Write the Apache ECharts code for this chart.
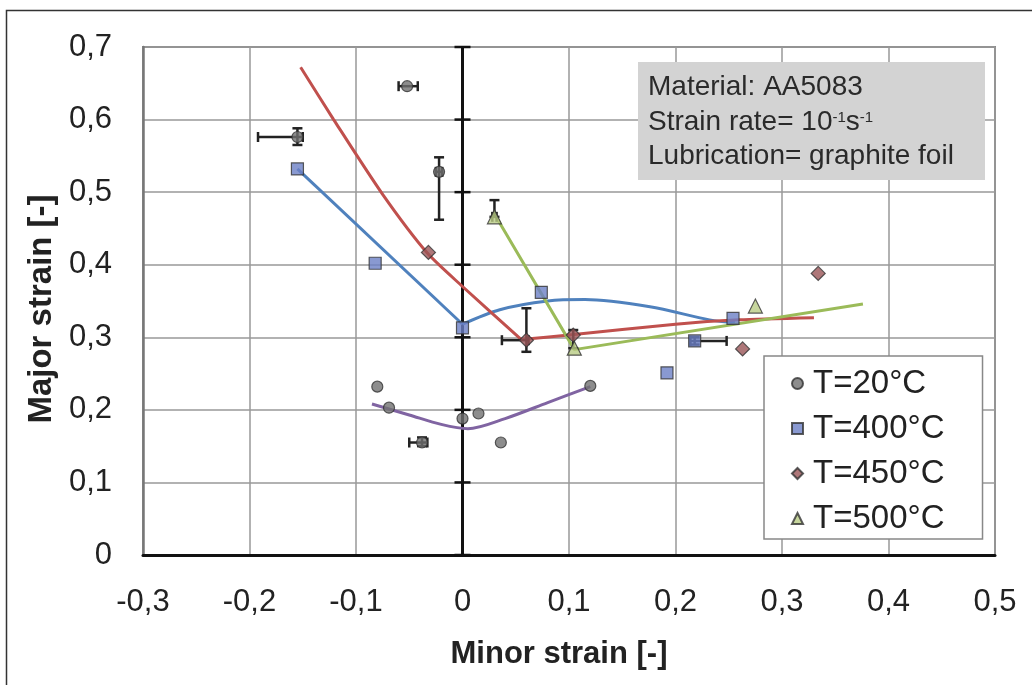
<!DOCTYPE html>
<html>
<head>
<meta charset="utf-8">
<script src="https://cdn.jsdelivr.net/npm/echarts@6/dist/echarts.min.js"></script>
<style>
  html, body { margin: 0; padding: 0; background: #fff; }
  #chart { width: 1032px; height: 685px; }
</style>
</head>
<body>
<div id="chart"></div>
<script>
// axis ticks
var xTicks = [-0.3, -0.2, -0.1, 0, 0.1, 0.2, 0.3, 0.4, 0.5];
var yTicks = [0, 0.1, 0.2, 0.3, 0.4, 0.5, 0.6, 0.7];

// measured points [minor, major]
var pts20 = [[-0.052, 0.646], [-0.155, 0.576], [-0.022, 0.528], [-0.08, 0.232], [-0.069, 0.203],
             [0, 0.188], [0.015, 0.195], [-0.038, 0.155], [0.036, 0.155], [0.12, 0.233]];
var pts400 = [[-0.155, 0.532], [-0.082, 0.402], [0, 0.313], [0.074, 0.362], [0.192, 0.251],
              [0.218, 0.295], [0.254, 0.326]];
var pts450 = [[-0.032, 0.417], [0.06, 0.296], [0.104, 0.303], [0.263, 0.284], [0.334, 0.388]];
var pts500 = [[0.03, 0.466], [0.105, 0.285], [0.275, 0.343]];

// fitted curves
var fit20 = [[-0.085, 0.208], [-0.05, 0.193], [-0.02, 0.18], [0.005, 0.174], [0.04, 0.188], [0.08, 0.21], [0.12, 0.232]];
var fit400a = [[-0.155, 0.532], [0, 0.318]];
var fit400b = [[0, 0.318], [0.035, 0.338], [0.08, 0.35], [0.115, 0.352], [0.176, 0.342], [0.232, 0.324], [0.256, 0.32]];
var fit450a = [[-0.152, 0.672], [-0.121, 0.6], [-0.075, 0.497], [-0.033, 0.416], [0, 0.37], [0.055, 0.297]];
var fit450b = [[0.055, 0.297], [0.1, 0.303], [0.2, 0.318], [0.26, 0.324], [0.33, 0.327]];
var fit500 = [[0.03, 0.47], [0.105, 0.283], [0.376, 0.346]];

// error bars [x, y, xLow, xHigh, yLow, yHigh]
var errBars = [
  [-0.052, 0.646, -0.060, -0.042, 0.646, 0.646],
  [-0.155, 0.576, -0.192, -0.150, 0.565, 0.588],
  [-0.022, 0.528, -0.025, -0.019, 0.462, 0.548],
  [-0.038, 0.155, -0.050, -0.033, 0.150, 0.162],
  [0.06, 0.296, 0.037, 0.062, 0.28, 0.34],
  [0.03, 0.466, 0.028, 0.032, 0.466, 0.489],
  [0.218, 0.295, 0.214, 0.248, 0.29, 0.30],
  [0.104, 0.303, 0.104, 0.104, 0.285, 0.31]
];

var fmt = function (v) {
  var s = (Math.round(v * 10) / 10).toString();
  return s.replace('.', ',');
};

var chart = echarts.init(document.getElementById('chart'));

function errItem(params, api) {
  var x = api.value(0), y = api.value(1);
  var p0 = api.coord([api.value(2), y]), p1 = api.coord([api.value(3), y]);
  var q0 = api.coord([x, api.value(4)]), q1 = api.coord([x, api.value(5)]);
  var st = { stroke: '#222', lineWidth: 2.5 };
  var kids = [];
  if (p1[0] - p0[0] > 2) {
    kids.push({ type: 'line', shape: { x1: p0[0], y1: p0[1], x2: p1[0], y2: p1[1] }, style: st });
    kids.push({ type: 'line', shape: { x1: p0[0], y1: p0[1] - 5, x2: p0[0], y2: p0[1] + 5 }, style: st });
    kids.push({ type: 'line', shape: { x1: p1[0], y1: p1[1] - 5, x2: p1[0], y2: p1[1] + 5 }, style: st });
  }
  if (q0[1] - q1[1] > 2) {
    kids.push({ type: 'line', shape: { x1: q0[0], y1: q0[1], x2: q1[0], y2: q1[1] }, style: st });
    kids.push({ type: 'line', shape: { x1: q0[0] - 5, y1: q0[1], x2: q0[0] + 5, y2: q0[1] }, style: st });
    kids.push({ type: 'line', shape: { x1: q1[0] - 5, y1: q1[1], x2: q1[0] + 5, y2: q1[1] }, style: st });
  }
  return { type: 'group', children: kids };
}

// black axis through x = 0 with crossing ticks
function zeroAxis(params, api) {
  var a = api.coord([0, api.value(0)]);
  var kids = [{ type: 'line', shape: { x1: a[0] - 8, y1: a[1], x2: a[0] + 8, y2: a[1] }, style: { stroke: '#111', lineWidth: 2.5 } }];
  if (params.dataIndex === 0) {
    var top = api.coord([0, yTicks[yTicks.length - 1]]);
    kids.push({ type: 'line', shape: { x1: a[0], y1: a[1], x2: top[0], y2: top[1] }, style: { stroke: '#111', lineWidth: 3 } });
  }
  return { type: 'group', children: kids };
}

var lineStyle = function (c) { return { color: c, width: 3 }; };
var mk = { borderColor: '#333', borderWidth: 1.2 };
var FONT = 'Liberation Sans, Arial';

chart.setOption({
  animation: false,
  backgroundColor: '#fff',
  grid: { left: 143, right: 37, top: 47, bottom: 130, show: true, borderColor: '#888', borderWidth: 2 },
  xAxis: {
    type: 'value', min: -0.3, max: 0.5, interval: 0.1,
    name: 'Minor strain [-]', nameLocation: 'middle', nameGap: 84,
    nameTextStyle: { fontFamily: FONT, fontSize: 31, fontWeight: 'bold', color: '#222', padding: [0, 20, 0, 0] },
    axisLine: { onZero: false, lineStyle: { color: '#111', width: 3 } },
    axisTick: { show: false },
    axisLabel: { formatter: fmt, fontFamily: FONT, fontSize: 31, color: '#222', margin: 32 },
    splitLine: { lineStyle: { color: '#999', width: 1.5 } }
  },
  yAxis: {
    type: 'value', min: 0, max: 0.7, interval: 0.1,
    name: 'Major strain [-]', nameLocation: 'middle', nameGap: 74,
    nameTextStyle: { fontFamily: FONT, fontSize: 33, fontWeight: 'bold', color: '#222', padding: [0, 16, 0, 0] },
    axisLine: { onZero: false, lineStyle: { color: '#777', width: 2.5 } },
    axisTick: { show: false },
    axisLabel: { formatter: fmt, fontFamily: FONT, fontSize: 31, color: '#222', margin: 31 },
    splitLine: { lineStyle: { color: '#999', width: 1.5 } }
  },
  legend: {
    left: 764, top: 356, orient: 'vertical',
    backgroundColor: '#fff', borderColor: '#888', borderWidth: 1.5,
    padding: [11, 38, 4, 27], itemGap: 12, itemWidth: 11, itemHeight: 11,
    textStyle: { fontFamily: FONT, fontSize: 33, color: '#222', padding: [0, 0, 0, 5] },
    data: ['T=20°C', 'T=400°C', 'T=450°C', 'T=500°C']
  },
  graphic: [
    { type: 'rect', left: 4, top: 8, silent: true, shape: { width: 1100, height: 800 },
      style: { fill: 'none', stroke: '#333', lineWidth: 1.5 } },
    { type: 'rect', left: 638, top: 62, z: 5, shape: { width: 347, height: 118 }, style: { fill: '#d3d3d3' } },
    { type: 'text', left: 648, top: 73, z: 6, style: { text: 'Material: AA5083', fontFamily: FONT, fontSize: 28, fill: '#2a2a2a' } },
    { type: 'text', left: 648, top: 107, z: 6, style: {
        text: 'Strain rate= 10{s|-1}s{s|-1}', fontFamily: FONT, fontSize: 28, lineHeight: 31, fill: '#2a2a2a',
        rich: { s: { fontSize: 15, lineHeight: 15, verticalAlign: 'top', padding: [3, 0, 0, 0], fill: '#2a2a2a', fontFamily: FONT } }
      } },
    { type: 'text', left: 648, top: 142, z: 6, style: { text: 'Lubrication= graphite foil', fontFamily: FONT, fontSize: 28, fill: '#2a2a2a' } }
  ],
  series: [
    { type: 'custom', renderItem: zeroAxis, data: yTicks.map(function (v) { return [v]; }),
      encode: { y: 0 }, z: 1, silent: true },
    { name: 'fit20', type: 'line', data: fit20, smooth: 0.3, symbol: 'none', lineStyle: lineStyle('#8064a2'), z: 2 },
    { name: 'fit400a', type: 'line', data: fit400a, symbol: 'none', lineStyle: lineStyle('#4f81bd'), z: 2 },
    { name: 'fit400b', type: 'line', data: fit400b, smooth: 0.3, symbol: 'none', lineStyle: lineStyle('#4f81bd'), z: 2 },
    { name: 'fit450a', type: 'line', data: fit450a, smooth: 0.25, symbol: 'none', lineStyle: lineStyle('#c0504d'), z: 2 },
    { name: 'fit450b', type: 'line', data: fit450b, smooth: 0.2, symbol: 'none', lineStyle: lineStyle('#c0504d'), z: 2 },
    { name: 'fit500', type: 'line', data: fit500, symbol: 'none', lineStyle: lineStyle('#9bbb59'), z: 2 },
    { type: 'custom', renderItem: errItem, data: errBars, encode: { x: 0, y: 1 }, z: 3, silent: true },
    { name: 'T=20°C', type: 'scatter', data: pts20, symbol: 'circle', symbolSize: 11,
      itemStyle: Object.assign({ color: '#707070' }, mk), z: 4 },
    { name: 'T=400°C', type: 'scatter', data: pts400, symbol: 'rect', symbolSize: 12,
      itemStyle: Object.assign({ color: '#6b7fc6' }, mk), z: 4 },
    { name: 'T=450°C', type: 'scatter', data: pts450, symbol: 'diamond', symbolSize: 14,
      itemStyle: Object.assign({ color: '#9a5558' }, mk), z: 4 },
    { name: 'T=500°C', type: 'scatter', data: pts500, symbol: 'triangle', symbolSize: 14,
      itemStyle: Object.assign({ color: '#b9cc84' }, mk), z: 4 }
  ]
});
</script>
</body>
</html>
